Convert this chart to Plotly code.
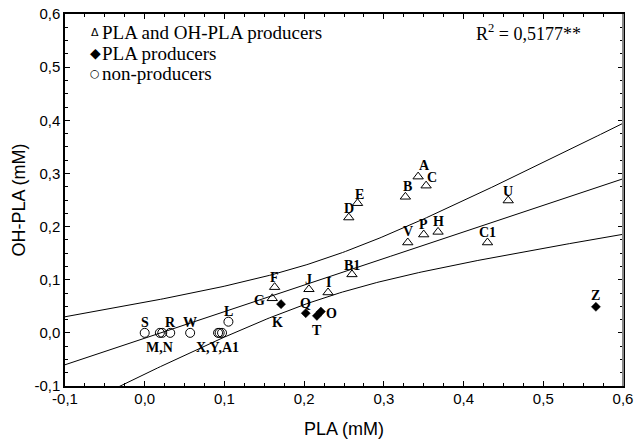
import numpy as np
import plotly.graph_objects as go

# ---------------- data ----------------
series_names = ["PLA and OH-PLA producers", "PLA producers", "non-producers"]

# PLA and OH-PLA producers (open triangles)
tri_names = ["A", "C", "B", "E", "D", "U", "V", "P", "H", "C1", "B1", "F", "G", "J", "I"]
tri_pla = [0.343, 0.353, 0.327, 0.267, 0.256, 0.456, 0.330, 0.350, 0.368, 0.430, 0.260, 0.163, 0.160, 0.206, 0.230]
tri_ohpla = [0.294, 0.277, 0.256, 0.244, 0.217, 0.249, 0.170, 0.185, 0.190, 0.170, 0.110, 0.086, 0.065, 0.082, 0.076]

# PLA producers (filled diamonds)
dia_names = ["K", "Q", "T", "O", "Z"]
dia_pla = [0.171, 0.202, 0.216, 0.221, 0.566]
dia_ohpla = [0.054, 0.037, 0.032, 0.040, 0.049]

# non-producers (open circles)
cir_names = ["L", "S", "M", "N", "R", "W", "X", "Y", "A1"]
cir_labels = ["L", "S", "M,N", "", "R", "W", "X,Y,A1", "", ""]
cir_pla = [0.105, 0.000, 0.019, 0.022, 0.032, 0.057, 0.092, 0.094, 0.097]
cir_ohpla = [0.021, 0.000, 0.000, 0.000, 0.000, 0.000, 0.000, 0.000, 0.000]

r2_text = "R<sup>2</sup> = 0,5177**"
tick_vals = [-0.1, 0.0, 0.1, 0.2, 0.3, 0.4, 0.5, 0.6]
tick_text = ["-0,1", "0,0", "0,1", "0,2", "0,3", "0,4", "0,5", "0,6"]
x_title = "PLA (mM)"
y_title = "OH-PLA (mM)"

# ---------------- label offsets (pixels: dx right, dy up) ----------------
label_offsets = {
    "A": (6, 11), "C": (6, 8), "B": (2, 10), "E": (2, 9), "D": (0, 9), "U": (0, 9),
    "V": (0, 11), "P": (0, 10), "H": (0, 10), "C1": (0, 10), "B1": (0, 9),
    "F": (0, 10), "G": (-13, -2), "J": (0, 10), "I": (0, 10),
    "K": (-4, -18), "Q": (0, 10), "T": (0, -15), "O": (11, -2), "Z": (0, 11),
    "L": (0, 10), "S": (0, 10), "M": (0, -15), "R": (0, 10), "W": (0, 10), "X": (-1, -15),
}

# ---------------- regression with 99% confidence band ----------------
x_all = np.array(tri_pla + dia_pla + cir_pla)
y_all = np.array(tri_ohpla + dia_ohpla + cir_ohpla)
n = len(x_all)
slope, intercept = np.polyfit(x_all, y_all, 1)
resid = y_all - (intercept + slope * x_all)
s = np.sqrt(np.sum(resid ** 2) / (n - 2))
sxx = np.sum((x_all - x_all.mean()) ** 2)
t99 = 2.771  # two-sided 99 %, df = 27
xs = np.linspace(-0.1, 0.6, 200)
fit = intercept + slope * xs
half = t99 * s * np.sqrt(1.0 / n + (xs - x_all.mean()) ** 2 / sxx)

fig = go.Figure()
line_style = dict(color="black", width=1)
for yy in (fit, fit + half, fit - half):
    fig.add_trace(go.Scatter(x=xs, y=yy, mode="lines", line=line_style,
                             showlegend=False, hoverinfo="skip", cliponaxis=True))

fig.add_trace(go.Scatter(x=tri_pla, y=tri_ohpla, mode="markers", name=series_names[0],
                         marker=dict(symbol="triangle-up-open", size=9, color="black",
                                     line=dict(width=1, color="black")), showlegend=False))
fig.add_trace(go.Scatter(x=dia_pla, y=dia_ohpla, mode="markers", name=series_names[1],
                         marker=dict(symbol="diamond", size=7, color="black",
                                     line=dict(width=0.5, color="black")), showlegend=False))
fig.add_trace(go.Scatter(x=cir_pla, y=cir_ohpla, mode="markers", name=series_names[2],
                         marker=dict(symbol="circle-open", size=9, color="black",
                                     line=dict(width=1, color="black")), showlegend=False))

label_font = dict(family="Liberation Serif", size=14, color="black", weight="bold")
annotations = []
def add_labels(names, labels, xs_, ys_):
    for nm, lb, xv, yv in zip(names, labels, xs_, ys_):
        if not lb:
            continue
        dx, dy = label_offsets.get(nm, (0, 10))
        annotations.append(dict(x=xv, y=yv, xref="x", yref="y", text=lb, showarrow=False,
                                xshift=dx, yshift=dy, font=label_font))

add_labels(tri_names, tri_names, tri_pla, tri_ohpla)
add_labels(dia_names, dia_names, dia_pla, dia_ohpla)
add_labels(cir_names, cir_labels, cir_pla, cir_ohpla)

# legend drawn as text, like the original
W, H = 637, 443
ml, mr, mt, mb = 65, 14, 14, 57
pw, ph = W - ml - mr, H - mt - mb
def px(xp):
    return (xp - ml) / pw
def py(yp):
    return (H - mb - yp) / ph

leg_font = dict(family="Liberation Serif", size=19, color="black")
symbols = [("\u0394", 11), ("\u25C6", 14), ("\u25CB", 11)]
leg_y = [32.3, 53.3, 74.0]
for (sym, sz), name, yy in zip(symbols, series_names, leg_y):
    annotations.append(dict(x=px(95), y=py(yy), xref="paper", yref="paper", text=sym,
                            showarrow=False, xanchor="center", yanchor="middle",
                            font=dict(family="DejaVu Sans", size=sz, color="black")))
    annotations.append(dict(x=px(100), y=py(yy), xref="paper", yref="paper", text=name,
                            showarrow=False, xanchor="left", yanchor="middle", font=leg_font))

annotations.append(dict(x=px(528), y=py(33), xref="paper", yref="paper", text=r2_text,
                        showarrow=False, xanchor="center", yanchor="middle",
                        font=dict(family="Liberation Serif", size=18, color="black")))

axis_common = dict(
    range=[-0.1, 0.6], tickvals=tick_vals, ticktext=tick_text,
    ticks="inside", ticklen=5, tickwidth=1, tickcolor="black",
    minor=dict(ticks="inside", ticklen=3, dtick=0.025, tickcolor="black", tickwidth=1),
    showline=True, linecolor="black", linewidth=1.5, mirror="ticks",
    showgrid=False, zeroline=False, ticklabeloverflow="allow",
    tickfont=dict(family="Liberation Sans", size=15, color="black"),
)

fig.update_layout(
    width=W, height=H,
    margin=dict(l=ml, r=mr, t=mt, b=mb, autoexpand=False),
    paper_bgcolor="white", plot_bgcolor="white",
    xaxis=dict(axis_common, ticklabelstandoff=-2,
               title=dict(text=x_title, standoff=17,
                          font=dict(family="Liberation Sans", size=18, color="black"))),
    yaxis=dict(axis_common, title=dict(text=y_title, standoff=4,
               font=dict(family="Liberation Sans", size=18, color="black"))),
    annotations=annotations,
    shapes=[dict(type="line", xref="paper", yref="paper", x0=1, x1=1, y0=0, y1=1,
                 line=dict(color="#888888", width=2))],
    showlegend=False,
)

fig.write_html("out.html", config={"displayModeBar": False},
               post_script="document.body.style.margin='0px';")
